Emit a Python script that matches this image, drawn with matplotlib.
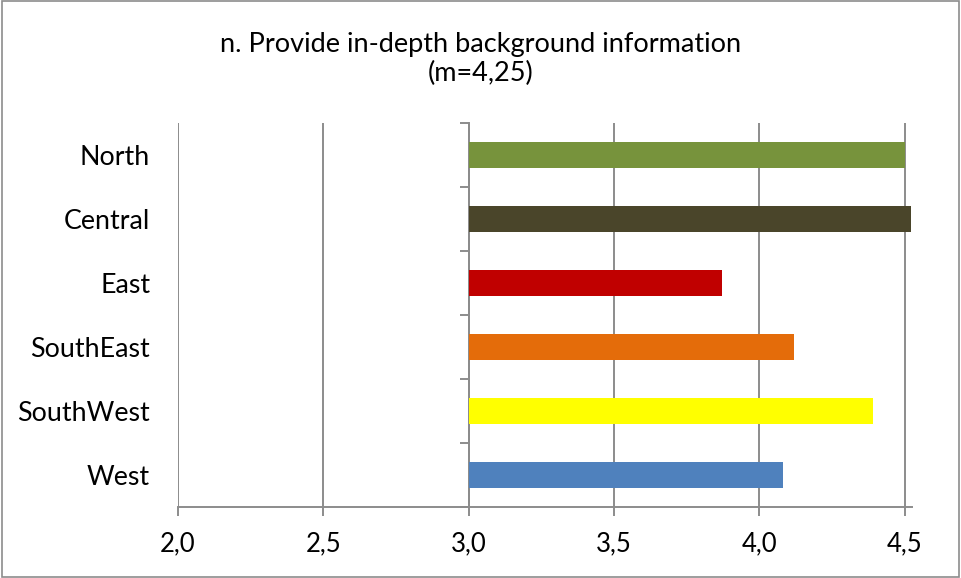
import matplotlib.pyplot as plt
from matplotlib.patches import Rectangle
from matplotlib.ticker import FixedLocator, FuncFormatter

# data, top to bottom as drawn
regions = ["North", "Central", "East", "SouthEast", "SouthWest", "West"]
means = [4.50, 4.52, 3.87, 4.12, 4.39, 4.08]
colors = ["#77933C", "#4A452A", "#C00000", "#E46C0A", "#FFFF00", "#4F81BD"]
x_ticks = [2.0, 2.5, 3.0, 3.5, 4.0, 4.5]
baseline = 3.0
title = "n. Provide in-depth background information\n(m=4,25)"

GRID = "#8c8c8c"

plt.rcParams["font.family"] = ["Lato", "DejaVu Sans"]

fig = plt.figure(figsize=(9.61, 5.78), dpi=100)
ax = fig.add_axes([0.1852, 0.1228, 0.949 - 0.1852, 0.787 - 0.1228])

n = len(regions)
ypos = list(range(n - 1, -1, -1))
widths = [m - baseline for m in means]
ax.barh(ypos, widths, left=baseline, height=0.4, color=colors, zorder=3)

ax.set_xlim(2.0, 4.525)
ax.set_ylim(-0.5, n - 0.5)

ax.set_xticks(x_ticks)
ax.xaxis.set_major_formatter(FuncFormatter(lambda v, p: f"{v:.1f}".replace(".", ",")))
ax.grid(axis="x", color=GRID, linewidth=1.4, zorder=1)
ax.tick_params(axis="x", length=6.5, width=1.4, color=GRID, pad=11, labelsize=18.5)

# category labels on the left edge, y axis drawn at the baseline
ax.set_yticks(ypos)
ax.set_yticklabels(regions)
ax.yaxis.set_minor_locator(FixedLocator([i - 0.5 for i in range(n + 1)]))
ax.tick_params(axis="y", which="major", length=0, pad=20, labelsize=19.3)
ax.tick_params(axis="y", which="minor", left=False, right=True, direction="in",
               length=6.5, width=1.4, color=GRID)

for side in ["top", "left"]:
    ax.spines[side].set_visible(False)
ax.spines["right"].set_position(("data", baseline))
ax.spines["right"].set_color(GRID)
ax.spines["right"].set_linewidth(1.4)
ax.spines["bottom"].set_color(GRID)
ax.spines["bottom"].set_linewidth(1.4)

fig.text(0.5, 0.898, title, ha="center", va="center", fontsize=19.5, linespacing=1.2)

fig.patches.append(Rectangle((0.002, 0.002), 0.996, 0.996, transform=fig.transFigure,
                             fill=False, edgecolor=GRID, linewidth=1.2))

fig.savefig("out.png", dpi=100)
